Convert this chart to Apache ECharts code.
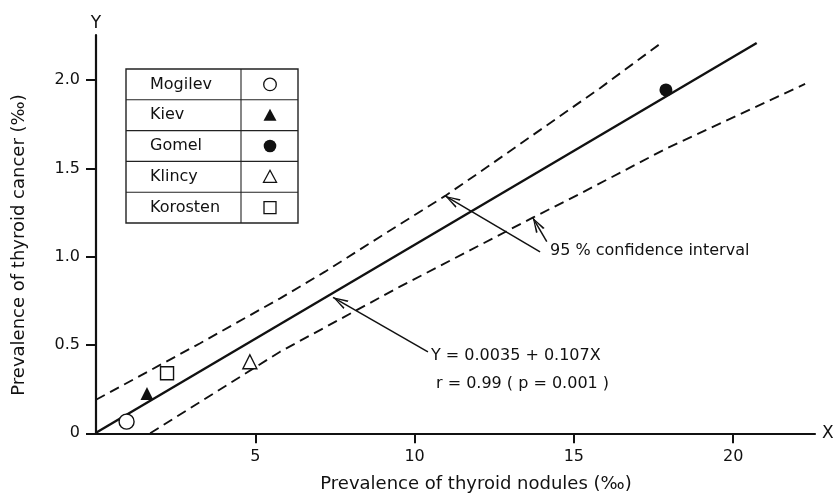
<!DOCTYPE html>
<html><head><meta charset="utf-8">
<script src="https://cdn.jsdelivr.net/npm/echarts@6/dist/echarts.min.js"></script>
<style>html,body{margin:0;padding:0;background:#fff}#c{width:834px;height:499px}</style>
</head><body><div id="c"></div>
<script>
// ---- data ----
const cities = ['Mogilev', 'Kiev', 'Gomel', 'Klincy', 'Korosten'];
const noduleX = [0.96, 1.60, 17.89, 4.83, 2.23];      // prevalence of thyroid nodules (‰)
const cancerY = [0.066, 0.226, 1.944, 0.405, 0.34];   // prevalence of thyroid cancer (‰)
const citySymbols = ['circle', 'triangle', 'circle', 'triangle', 'rect'];
const cityFilled = [false, true, true, false, false];

const regX = [0, 20.74];
const regY = [0.0035, 2.21];
const upperX = [0, 3.27, 5.78, 7.19, 8.92, 10.96, 12.06, 15.82, 17.73];
const upperY = [0.19, 0.51, 0.764, 0.915, 1.113, 1.344, 1.48, 1.954, 2.208];
const lowerX = [1.7, 5.78, 9.54, 13.71, 15.2, 17.92, 22.26];
const lowerY = [0, 0.462, 0.83, 1.221, 1.357, 1.614, 1.978];

// annotation arrows: from -> to (data units)
const arrowFrom = [[13.94, 1.027], [14.15, 1.085], [10.42, 0.461]];
const arrowTo = [[10.96, 1.344], [13.71, 1.221], [7.44, 0.77]];

const xTicks = [5, 10, 15, 20];
const xTickLabels = ['5', '10', '15', '20'];
const yTicks = [0, 0.5, 1, 1.5, 2];
const yTickLabels = ['0', '0.5', '1.0', '1.5', '2.0'];

const xTitle = 'Prevalence of thyroid nodules (‰)';
const yTitle = 'Prevalence of thyroid cancer (‰)';
const ciText = '95 % confidence interval';
const eqText = 'Y = 0.0035 + 0.107X';
const rText = 'r = 0.99 ( p = 0.001 )';

// ---- chart ----
const INK = '#111';
const FONT = 'DejaVu Sans';
const zip = (a, b) => a.map((v, i) => [v, b[i]]);
const chevron = 'path://M-10,0 L-9.9,0 L-10,0.1 Z M20,30 L19.9,30 L20,29.9 Z M5,15 L0,30 L1.9,30 L5,18.2 L8.1,30 L10,30 Z';

const chart = echarts.init(document.getElementById('c'), null, { renderer: 'canvas' });

const scatterSeries = cities.map((name, i) => ({
  name,
  type: 'scatter',
  z: 5,
  symbol: citySymbols[i],
  symbolSize: [15, 13, 13, 14, 13][i],
  itemStyle: cityFilled[i]
    ? { color: INK, opacity: 1 }
    : { color: '#fff', borderColor: INK, borderWidth: 1.4, opacity: 1 },
  data: [[noduleX[i], cancerY[i]]]
}));

// legend table
const tbl = { x: 126, y: 69, w: 172, rowH: 30.8, col: 241, symX: 270 };
const tableEls = [
  { type: 'rect', shape: { x: tbl.x, y: tbl.y, width: tbl.w, height: tbl.rowH * 5 },
    style: { fill: '#fff', stroke: '#222', lineWidth: 1.4 }, z: 10 },
  { type: 'line', shape: { x1: tbl.col, y1: tbl.y, x2: tbl.col, y2: tbl.y + tbl.rowH * 5 },
    style: { stroke: '#222', lineWidth: 1.1 }, z: 11 }
];
cities.forEach((name, i) => {
  const cy = tbl.y + tbl.rowH * (i + 0.5);
  if (i > 0) tableEls.push({ type: 'line', shape: { x1: tbl.x, y1: tbl.y + tbl.rowH * i, x2: tbl.x + tbl.w, y2: tbl.y + tbl.rowH * i },
    style: { stroke: '#222', lineWidth: 1.1 }, z: 11 });
  tableEls.push({ type: 'text', x: 150, y: cy, z: 12,
    style: { text: name, font: '16px "' + FONT + '"', fill: INK, verticalAlign: 'middle', align: 'left' } });
  const st = cityFilled[i] ? { fill: INK } : { fill: '#fff', stroke: INK, lineWidth: 1.3 };
  let el;
  if (citySymbols[i] === 'circle') el = { type: 'circle', shape: { cx: tbl.symX, cy, r: 6.3 } };
  else if (citySymbols[i] === 'triangle') el = { type: 'polygon', shape: { points: [[tbl.symX, cy - 6.5], [tbl.symX + 6.5, cy + 5.5], [tbl.symX - 6.5, cy + 5.5]] } };
  else el = { type: 'rect', shape: { x: tbl.symX - 6, y: cy - 6, width: 12, height: 12 } };
  el.style = st; el.z = 12;
  tableEls.push(el);
});

const textEl = (text, x, y, extra) => Object.assign({
  type: 'text', x, y, z: 12,
  style: Object.assign({ text, font: '16px "' + FONT + '"', fill: INK, verticalAlign: 'middle', align: 'left' }, extra || {})
});

const option = {
  animation: false,
  backgroundColor: '#fff',
  textStyle: { fontFamily: FONT },
  grid: { left: 96, right: 19, top: 35, bottom: 65.7, containLabel: false, outerBoundsMode: 'none' },
  xAxis: {
    type: 'value', min: 0, max: 22.57, interval: 5,
    name: 'X', nameLocation: 'end', nameGap: 7,
    nameTextStyle: { fontSize: 17, color: INK, fontFamily: FONT, verticalAlign: 'middle', align: 'left' },
    axisLine: { show: true, onZero: false, lineStyle: { color: INK, width: 2.2 } },
    axisTick: { show: true, customValues: xTicks, length: 10, inside: false, lineStyle: { color: INK, width: 2 } },
    axisLabel: { show: true, customValues: xTicks, margin: 16, fontSize: 16, color: INK, fontFamily: FONT,
      formatter: v => { const i = xTicks.indexOf(v); return i >= 0 ? xTickLabels[i] : ''; } },
    splitLine: { show: false }
  },
  yAxis: {
    type: 'value', min: 0, max: 2.255, interval: 0.5,
    name: 'Y', nameLocation: 'end', nameGap: 3,
    nameTextStyle: { fontSize: 17, color: INK, fontFamily: FONT, align: 'center' },
    axisLine: { show: true, onZero: false, lineStyle: { color: INK, width: 2.2 } },
    axisTick: { show: true, customValues: yTicks, length: 10, inside: false, lineStyle: { color: INK, width: 2 } },
    axisLabel: { show: true, customValues: yTicks, margin: 16, fontSize: 16, color: INK, fontFamily: FONT,
      formatter: v => { const i = yTicks.indexOf(v); return i >= 0 ? yTickLabels[i] : ''; } },
    splitLine: { show: false }
  },
  series: [
    { name: 'regression', type: 'line', z: 3, showSymbol: false, symbol: 'none',
      lineStyle: { color: INK, width: 2.4 }, data: zip(regX, regY) },
    { name: 'upper 95% CI', type: 'line', z: 3, showSymbol: false, symbol: 'none',
      lineStyle: { color: INK, width: 1.9, type: [10, 6] }, data: zip(upperX, upperY) },
    { name: 'lower 95% CI', type: 'line', z: 3, showSymbol: false, symbol: 'none',
      lineStyle: { color: INK, width: 1.9, type: [10, 6] }, data: zip(lowerX, lowerY) },
    { name: 'arrows', type: 'lines', coordinateSystem: 'cartesian2d', z: 4,
      symbol: ['none', chevron], symbolSize: 30,
      lineStyle: { color: INK, width: 1.5, opacity: 1, curveness: 0 },
      data: arrowFrom.map((f, i) => ({ coords: [f, arrowTo[i]] })) },
    ...scatterSeries
  ],
  graphic: [
    ...tableEls,
    textEl(ciText, 550, 250.5),
    textEl(eqText, 431, 355.5),
    textEl(rText, 436, 384),
    textEl(xTitle, 476, 484, { align: 'center', font: '18px "' + FONT + '"' }),
    { type: 'text', x: 19, y: 245, rotation: Math.PI / 2, z: 12,
      style: { text: yTitle, font: '18px "' + FONT + '"', fill: INK, align: 'center', verticalAlign: 'middle' } }
  ]
};
chart.setOption(option);
</script>
</body></html>
